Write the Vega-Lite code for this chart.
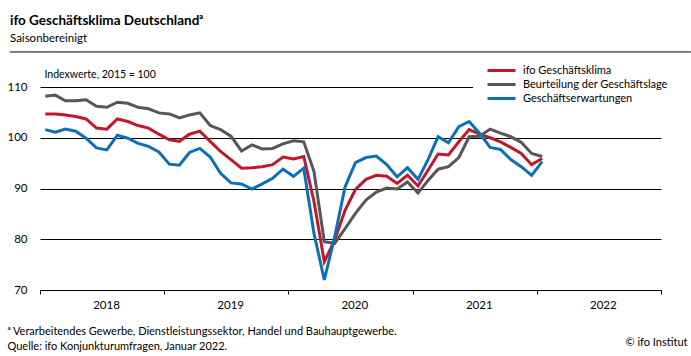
{
  "$schema": "https://vega.github.io/schema/vega-lite/v6.json",
  "width": 621,
  "height": 203,
  "autosize": {"type": "none"},
  "padding": {"left": 40, "top": 87, "right": 30, "bottom": 66},
  "background": "white",
  "config": {"font": "Lato", "view": {"stroke": null}},
  "title": {
    "text": "ifo Geschäftsklima Deutschlandᵃ",
    "subtitle": "Saisonbereinigt",
    "anchor": "start",
    "frame": "group",
    "dx": -30,
    "offset": 7,
    "fontSize": 13.5,
    "fontWeight": "bold",
    "color": "black",
    "subtitleFontSize": 11.5,
    "subtitleColor": "black",
    "subtitlePadding": 5
  },
  "layer": [
    {
      "data": {
        "values": [
          {"Monat": "2018-01", "ifo Geschäftsklima": 104.7, "Beurteilung der Geschäftslage": 108.2, "Geschäftserwartungen": 101.6},
          {"Monat": "2018-02", "ifo Geschäftsklima": 104.7, "Beurteilung der Geschäftslage": 108.4, "Geschäftserwartungen": 101.1},
          {"Monat": "2018-03", "ifo Geschäftsklima": 104.5, "Beurteilung der Geschäftslage": 107.3, "Geschäftserwartungen": 101.7},
          {"Monat": "2018-04", "ifo Geschäftsklima": 104.2, "Beurteilung der Geschäftslage": 107.3, "Geschäftserwartungen": 101.3},
          {"Monat": "2018-05", "ifo Geschäftsklima": 103.7, "Beurteilung der Geschäftslage": 107.5, "Geschäftserwartungen": 99.9},
          {"Monat": "2018-06", "ifo Geschäftsklima": 101.9, "Beurteilung der Geschäftslage": 106.2, "Geschäftserwartungen": 98.0},
          {"Monat": "2018-07", "ifo Geschäftsklima": 101.7, "Beurteilung der Geschäftslage": 106.0, "Geschäftserwartungen": 97.6},
          {"Monat": "2018-08", "ifo Geschäftsklima": 103.7, "Beurteilung der Geschäftslage": 107.0, "Geschäftserwartungen": 100.5},
          {"Monat": "2018-09", "ifo Geschäftsklima": 103.2, "Beurteilung der Geschäftslage": 106.8, "Geschäftserwartungen": 99.9},
          {"Monat": "2018-10", "ifo Geschäftsklima": 102.4, "Beurteilung der Geschäftslage": 106.0, "Geschäftserwartungen": 98.9},
          {"Monat": "2018-11", "ifo Geschäftsklima": 101.9, "Beurteilung der Geschäftslage": 105.7, "Geschäftserwartungen": 98.3},
          {"Monat": "2018-12", "ifo Geschäftsklima": 100.7, "Beurteilung der Geschäftslage": 104.9, "Geschäftserwartungen": 97.2},
          {"Monat": "2019-01", "ifo Geschäftsklima": 99.6, "Beurteilung der Geschäftslage": 104.7, "Geschäftserwartungen": 94.8},
          {"Monat": "2019-02", "ifo Geschäftsklima": 99.3, "Beurteilung der Geschäftslage": 103.9, "Geschäftserwartungen": 94.6},
          {"Monat": "2019-03", "ifo Geschäftsklima": 100.7, "Beurteilung der Geschäftslage": 104.5, "Geschäftserwartungen": 97.1},
          {"Monat": "2019-04", "ifo Geschäftsklima": 101.3, "Beurteilung der Geschäftslage": 104.9, "Geschäftserwartungen": 97.9},
          {"Monat": "2019-05", "ifo Geschäftsklima": 99.3, "Beurteilung der Geschäftslage": 102.4, "Geschäftserwartungen": 96.2},
          {"Monat": "2019-06", "ifo Geschäftsklima": 97.3, "Beurteilung der Geschäftslage": 101.6, "Geschäftserwartungen": 93.0},
          {"Monat": "2019-07", "ifo Geschäftsklima": 95.7, "Beurteilung der Geschäftslage": 100.3, "Geschäftserwartungen": 91.1},
          {"Monat": "2019-08", "ifo Geschäftsklima": 94.0, "Beurteilung der Geschäftslage": 97.4, "Geschäftserwartungen": 90.9},
          {"Monat": "2019-09", "ifo Geschäftsklima": 94.1, "Beurteilung der Geschäftslage": 98.6, "Geschäftserwartungen": 89.9},
          {"Monat": "2019-10", "ifo Geschäftsklima": 94.3, "Beurteilung der Geschäftslage": 97.8, "Geschäftserwartungen": 90.9},
          {"Monat": "2019-11", "ifo Geschäftsklima": 94.7, "Beurteilung der Geschäftslage": 97.9, "Geschäftserwartungen": 92.0},
          {"Monat": "2019-12", "ifo Geschäftsklima": 96.2, "Beurteilung der Geschäftslage": 98.8, "Geschäftserwartungen": 93.8},
          {"Monat": "2020-01", "ifo Geschäftsklima": 95.8, "Beurteilung der Geschäftslage": 99.4, "Geschäftserwartungen": 92.4},
          {"Monat": "2020-02", "ifo Geschäftsklima": 96.3, "Beurteilung der Geschäftslage": 99.2, "Geschäftserwartungen": 94.0},
          {"Monat": "2020-03", "ifo Geschäftsklima": 87.5, "Beurteilung der Geschäftslage": 93.4, "Geschäftserwartungen": 81.2},
          {"Monat": "2020-04", "ifo Geschäftsklima": 75.6, "Beurteilung der Geschäftslage": 79.5, "Geschäftserwartungen": 72.0},
          {"Monat": "2020-05", "ifo Geschäftsklima": 79.8, "Beurteilung der Geschäftslage": 79.2, "Geschäftserwartungen": 80.5},
          {"Monat": "2020-06", "ifo Geschäftsklima": 85.7, "Beurteilung der Geschäftslage": 82.1, "Geschäftserwartungen": 90.3},
          {"Monat": "2020-07", "ifo Geschäftsklima": 89.8, "Beurteilung der Geschäftslage": 85.1, "Geschäftserwartungen": 95.1},
          {"Monat": "2020-08", "ifo Geschäftsklima": 91.8, "Beurteilung der Geschäftslage": 87.7, "Geschäftserwartungen": 96.1},
          {"Monat": "2020-09", "ifo Geschäftsklima": 92.6, "Beurteilung der Geschäftslage": 89.3, "Geschäftserwartungen": 96.4},
          {"Monat": "2020-10", "ifo Geschäftsklima": 92.4, "Beurteilung der Geschäftslage": 90.1, "Geschäftserwartungen": 94.7},
          {"Monat": "2020-11", "ifo Geschäftsklima": 91.0, "Beurteilung der Geschäftslage": 89.9, "Geschäftserwartungen": 92.3},
          {"Monat": "2020-12", "ifo Geschäftsklima": 92.6, "Beurteilung der Geschäftslage": 91.3, "Geschäftserwartungen": 94.1},
          {"Monat": "2021-01", "ifo Geschäftsklima": 90.5, "Beurteilung der Geschäftslage": 89.1, "Geschäftserwartungen": 91.8},
          {"Monat": "2021-02", "ifo Geschäftsklima": 93.6, "Beurteilung der Geschäftslage": 91.6, "Geschäftserwartungen": 95.7},
          {"Monat": "2021-03", "ifo Geschäftsklima": 96.8, "Beurteilung der Geschäftslage": 93.8, "Geschäftserwartungen": 100.2},
          {"Monat": "2021-04", "ifo Geschäftsklima": 96.6, "Beurteilung der Geschäftslage": 94.3, "Geschäftserwartungen": 99.0},
          {"Monat": "2021-05", "ifo Geschäftsklima": 99.2, "Beurteilung der Geschäftslage": 96.1, "Geschäftserwartungen": 102.2},
          {"Monat": "2021-06", "ifo Geschäftsklima": 101.6, "Beurteilung der Geschäftslage": 100.2, "Geschäftserwartungen": 103.2},
          {"Monat": "2021-07", "ifo Geschäftsklima": 100.7, "Beurteilung der Geschäftslage": 100.3, "Geschäftserwartungen": 100.9},
          {"Monat": "2021-08", "ifo Geschäftsklima": 100.0, "Beurteilung der Geschäftslage": 101.7, "Geschäftserwartungen": 98.1},
          {"Monat": "2021-09", "ifo Geschäftsklima": 99.2, "Beurteilung der Geschäftslage": 100.9, "Geschäftserwartungen": 97.7},
          {"Monat": "2021-10", "ifo Geschäftsklima": 98.1, "Beurteilung der Geschäftslage": 100.2, "Geschäftserwartungen": 95.7},
          {"Monat": "2021-11", "ifo Geschäftsklima": 96.9, "Beurteilung der Geschäftslage": 99.1, "Geschäftserwartungen": 94.3},
          {"Monat": "2021-12", "ifo Geschäftsklima": 94.7, "Beurteilung der Geschäftslage": 96.9, "Geschäftserwartungen": 92.6},
          {"Monat": "2022-01", "ifo Geschäftsklima": 95.9, "Beurteilung der Geschäftslage": 96.3, "Geschäftserwartungen": 95.3}
        ]
      },
      "transform": [
        {"fold": ["ifo Geschäftsklima", "Beurteilung der Geschäftslage", "Geschäftserwartungen"], "as": ["Reihe", "Wert"]}
      ],
      "mark": {"type": "line", "strokeWidth": 3},
      "encoding": {
        "x": {
          "field": "Monat",
          "timeUnit": "utcyearmonth",
          "type": "temporal",
          "bandPosition": 0.5,
          "scale": {
            "type": "utc",
            "domain": [
              {"year": 2018, "month": 1, "date": 1, "utc": true},
              {"year": 2023, "month": 1, "date": 1, "utc": true}
            ]
          },
          "axis": {
            "values": [
              {"year": 2018, "month": 1, "date": 1, "utc": true},
              {"year": 2019, "month": 1, "date": 1, "utc": true},
              {"year": 2020, "month": 1, "date": 1, "utc": true},
              {"year": 2021, "month": 1, "date": 1, "utc": true},
              {"year": 2022, "month": 1, "date": 1, "utc": true},
              {"year": 2023, "month": 1, "date": 1, "utc": true}
            ],
            "labelExpr": "utcyear(datum.value) > 2022 ? '' : utcFormat(datum.value, '%Y')",
            "labelOffset": 66,
            "labelPadding": 5,
            "labelOverlap": false,
            "labelFlush": false,
            "labelFontSize": 11.5,
            "labelColor": "black",
            "tickSize": 4,
            "tickColor": "black",
            "domainColor": "black",
            "domainWidth": 1,
            "grid": false,
            "title": ["ᵃ Verarbeitendes Gewerbe, Dienstleistungssektor, Handel und Bauhauptgewerbe.", "Quelle: ifo Konjunkturumfragen, Januar 2022."],
            "titleX": -33,
            "titleY": 44,
            "titleAnchor": "start",
            "titleAlign": "left",
            "titleBaseline": "alphabetic",
            "titleFontWeight": "normal",
            "titleFontSize": 11,
            "titleLineHeight": 15,
            "titleColor": "black"
          }
        },
        "y": {
          "field": "Wert",
          "type": "quantitative",
          "scale": {"domain": [70, 110], "nice": false, "zero": false},
          "axis": {
            "values": [70, 80, 90, 100, 110],
            "grid": true,
            "gridColor": "black",
            "gridWidth": 1,
            "domain": false,
            "ticks": false,
            "labelPadding": 13,
            "labelFontSize": 11.5,
            "labelColor": "black",
            "title": "Indexwerte, 2015 = 100",
            "titleAngle": 0,
            "titleX": 4,
            "titleY": -13,
            "titleAlign": "left",
            "titleBaseline": "middle",
            "titleFontWeight": "normal",
            "titleFontSize": 10.5,
            "titleColor": "black"
          }
        },
        "color": {
          "field": "Reihe",
          "type": "nominal",
          "scale": {
            "domain": ["ifo Geschäftsklima", "Beurteilung der Geschäftslage", "Geschäftserwartungen"],
            "range": ["#C0182A", "#575757", "#0B70B8"]
          },
          "legend": {
            "orient": "none",
            "legendX": 433,
            "legendY": -32,
            "title": null,
            "symbolType": "M-2.8,0H2.8",
            "symbolSize": 100,
            "symbolStrokeWidth": 3,
            "symbolOffset": 13,
            "labelFontSize": 11,
            "labelColor": "black",
            "labelOffset": 15,
            "rowPadding": 1,
            "padding": 9,
            "fillColor": "white"
          }
        }
      }
    },
    {
      "data": {"values": [{"Linie": "oben"}]},
      "mark": {"type": "rule", "color": "black", "strokeWidth": 1},
      "encoding": {
        "x": {"datum": {"year": 2017, "month": 10, "date": 4, "utc": true}, "type": "temporal"},
        "x2": {"datum": {"year": 2023, "month": 3, "date": 30, "utc": true}},
        "y": {"datum": 116.9, "type": "quantitative"}
      }
    },
    {
      "data": {"values": [{"Quelle": "© ifo Institut"}]},
      "mark": {"type": "text", "align": "right", "baseline": "middle", "fontSize": 11, "color": "black"},
      "encoding": {
        "text": {"field": "Quelle"},
        "x": {"datum": {"year": 2023, "month": 3, "date": 20, "utc": true}, "type": "temporal"},
        "y": {"datum": 59.55, "type": "quantitative"}
      }
    }
  ]
}
